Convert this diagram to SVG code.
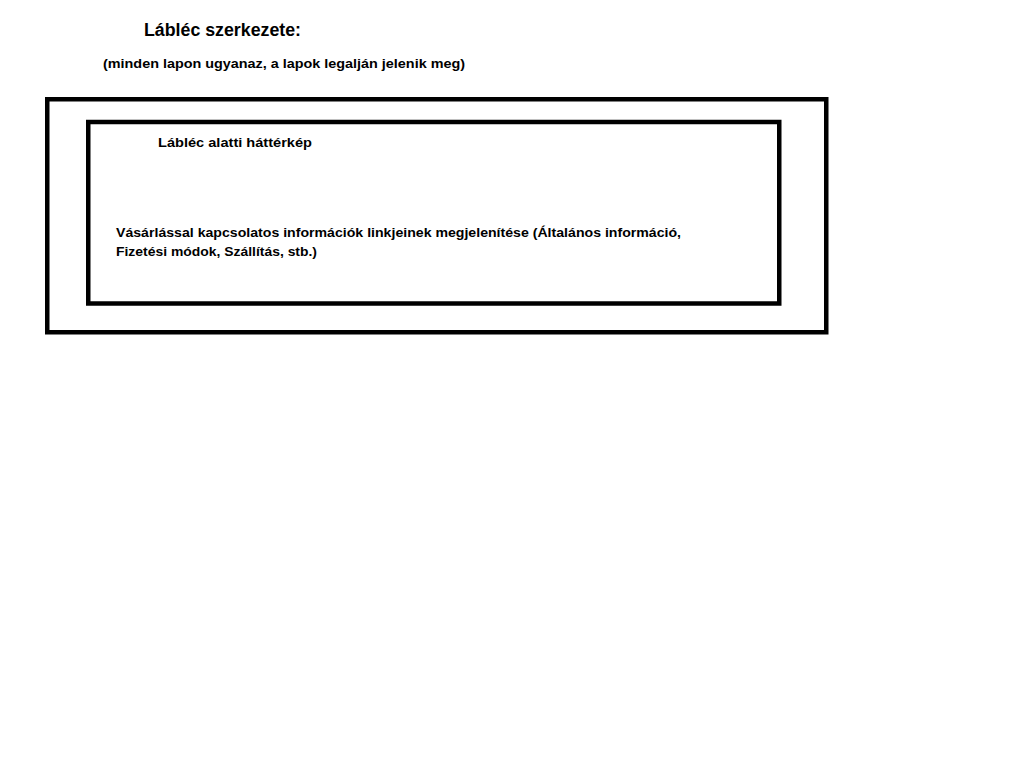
<svg xmlns="http://www.w3.org/2000/svg" width="1024" height="768" viewBox="0 0 1024 768">
<style>
text{font-family:"Liberation Sans",Arial,sans-serif;font-weight:bold;fill:#000}
.box{fill:none;stroke:#000;stroke-width:4.5}
</style>
<rect x="0" y="0" width="1024" height="768" fill="#fff"/>
<g id="title">
<text x="144" y="36" font-size="18" textLength="157" lengthAdjust="spacingAndGlyphs">Lábléc szerkezete:</text>
<text x="103" y="68" font-size="13" textLength="362" lengthAdjust="spacingAndGlyphs">(minden lapon ugyanaz, a lapok legalján jelenik meg)</text>
</g>
<g id="footer">
<rect class="box" x="47.25" y="99.25" width="779" height="233"/>
</g>
<g id="background-image">
<rect class="box" x="88.25" y="122" width="691" height="181.5"/>
<text x="158" y="147" font-size="13" textLength="154" lengthAdjust="spacingAndGlyphs">Lábléc alatti háttérkép</text>
<text x="116" y="237" font-size="13" textLength="565" lengthAdjust="spacingAndGlyphs">Vásárlással kapcsolatos információk linkjeinek megjelenítése (Általános információ,</text>
<text x="116" y="256" font-size="13" textLength="201" lengthAdjust="spacingAndGlyphs">Fizetési módok, Szállítás, stb.)</text>
</g>
<g id="connectors"/>
</svg>
